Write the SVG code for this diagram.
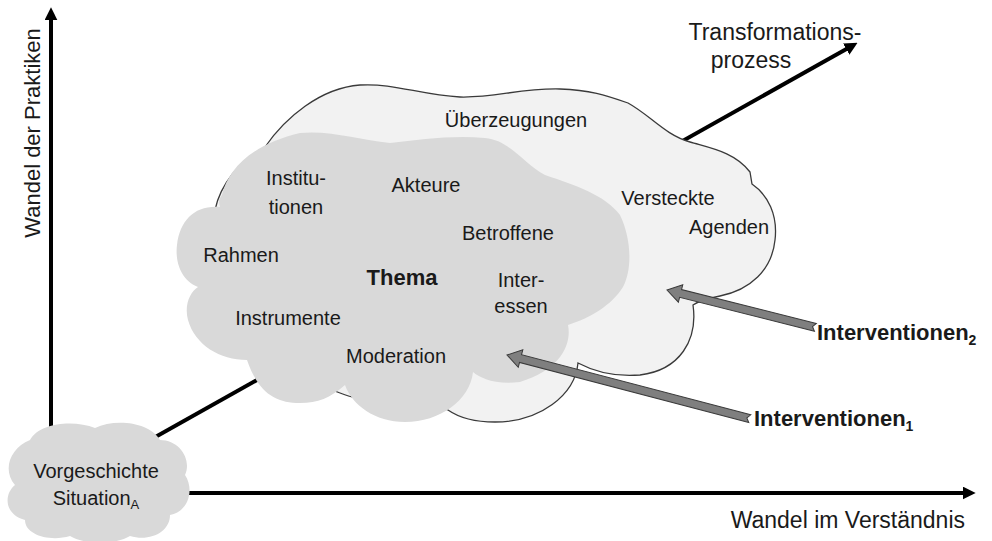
<svg xmlns="http://www.w3.org/2000/svg" width="992" height="541" viewBox="0 0 992 541">
<defs>
<style>
.lbl{font-family:"Liberation Sans",Arial,sans-serif;font-size:20px;fill:#1a1a1a;text-anchor:middle}
.ax{font-family:"Liberation Sans",Arial,sans-serif;font-size:23px;fill:#1a1a1a}
.bold{font-weight:bold}
.axis{stroke:#000;stroke-width:4;fill:none}
.iarrow{fill:#7f7f7f;stroke:#3a3a3a;stroke-width:1}
</style>
<marker id="ah" viewBox="0 0 12 12" markerWidth="13" markerHeight="13" markerUnits="userSpaceOnUse" refX="4" refY="6" orient="auto">
<path d="M0,0 L12,6 L0,12 z" fill="#000"/>
</marker>
</defs>
<rect width="992" height="541" fill="#fff"/>

<g id="connectors">
<line class="axis" x1="150" y1="440" x2="850" y2="47" marker-end="url(#ah)"/>
<line class="axis" x1="51" y1="430" x2="51" y2="16" marker-end="url(#ah)"/>
<line class="axis" x1="170" y1="493" x2="967" y2="493" marker-end="url(#ah)"/>
</g>

<g id="outer-cloud">
<path d="M215 210 C220 185 240 160 265 147 C285 118 320 88 360 85 C395 83 420 95 460 97 C495 98 520 88 560 89 C590 90 605 95 628 103 C650 115 665 135 690 142 C710 148 735 152 750 172 L752 184 C768 195 778 215 775 240 C772 270 750 290 720 296 C710 298 700 300 693 305 C698 340 680 370 640 375 C615 377 595 372 578 363 C575 395 540 422 495 422 C475 422 458 417 448 410 C420 400 380 400 357 398 C350 397 345 395 340 393 C300 380 260 350 230 300 C215 270 212 240 215 210 Z" fill="#f2f2f2" stroke="#3a3a3a" stroke-width="1.3"/>
<text class="lbl" x="516" y="127">Überzeugungen</text>
<text class="lbl" x="668" y="205">Versteckte</text>
<text class="lbl" x="729" y="234">Agenden</text>
</g>

<g id="inner-cloud">
<path d="M222 195 C228 170 250 145 300 133 C330 130 360 140 390 143 C420 140 450 135 485 138 C510 140 525 165 545 175 C575 185 605 195 620 215 C632 240 632 270 623 287 C612 305 590 318 568 325 C572 345 560 370 520 382 C495 385 480 378 473 372 C470 400 440 422 405 422 C375 422 352 405 345 385 C330 398 318 403 300 403 C275 403 258 392 247 360 C220 360 195 345 188 320 C184 305 190 292 198 287 C180 280 175 260 177 245 C180 220 195 205 220 207 C218 200 220 198 222 195 Z" fill="#d9d9d9"/>
<text class="lbl" x="296" y="185">Institu-</text>
<text class="lbl" x="296" y="214">tionen</text>
<text class="lbl" x="426" y="192">Akteure</text>
<text class="lbl" x="508" y="240">Betroffene</text>
<text class="lbl" x="241" y="262">Rahmen</text>
<text class="lbl bold" x="402" y="285" style="font-size:22px">Thema</text>
<text class="lbl" x="521" y="287">Inter-</text>
<text class="lbl" x="521" y="313">essen</text>
<text class="lbl" x="288" y="325">Instrumente</text>
<text class="lbl" x="396" y="363">Moderation</text>
</g>

<g id="start-cloud">
<path d="M30 440 C40 422 75 420 95 428 C115 418 150 422 160 440 C180 440 192 460 185 475 C195 490 188 512 170 515 C170 532 150 542 130 536 C115 545 85 545 70 536 C50 542 25 535 25 520 C5 515 3 495 15 485 C2 470 10 448 30 440 Z" fill="#d9d9d9"/>
<text class="lbl" x="96" y="478">Vorgeschichte</text>
<text class="lbl" x="96" y="505">Situation<tspan font-size="13" dy="4">A</tspan></text>
</g>

<g id="intervention-2">
<path class="iarrow" transform="translate(667,290) rotate(14.1)" d="M0,0 L14,-9 L14,-4 L153,-4 L150,0 L153,4 L14,4 L14,9 Z"/>
<text class="ax bold" x="817" y="340" style="font-size:22px">Interventionen<tspan font-size="14" dy="5">2</tspan></text>
</g>

<g id="intervention-1">
<path class="iarrow" transform="translate(507,355) rotate(14.7)" d="M0,0 L14,-9 L14,-4 L251,-4 L248,0 L251,4 L14,4 L14,9 Z"/>
<text class="ax bold" x="754" y="426" style="font-size:22px">Interventionen<tspan font-size="14" dy="5">1</tspan></text>
</g>

<g id="axis-labels">
<text class="ax" x="775" y="40" text-anchor="middle">Transformations-</text>
<text class="ax" x="751" y="68" text-anchor="middle">prozess</text>
<text class="ax" x="965" y="528" text-anchor="end">Wandel im Verständnis</text>
<text class="ax" transform="translate(40,133) rotate(-90)" text-anchor="middle" style="font-size:22px">Wandel der Praktiken</text>
</g>
</svg>
